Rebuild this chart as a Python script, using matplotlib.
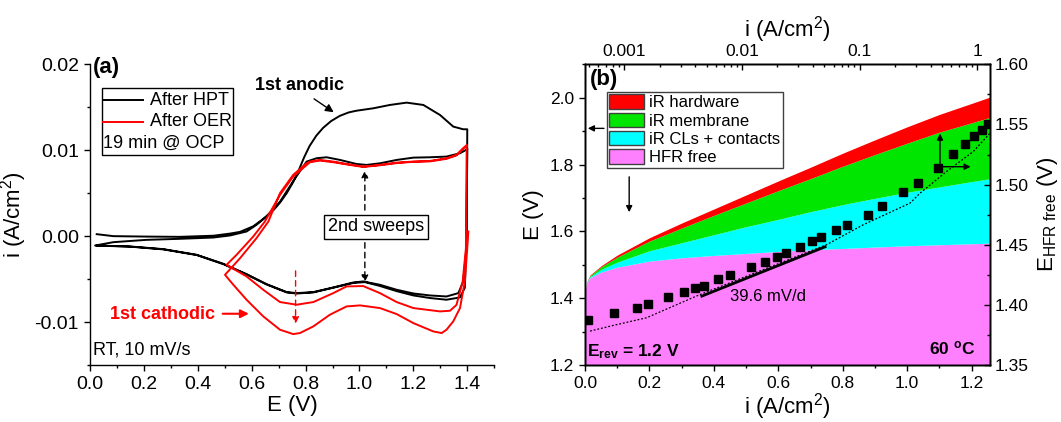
import numpy as np
import matplotlib
matplotlib.use('Agg')
import matplotlib.pyplot as plt
from matplotlib.patches import Rectangle, Patch
from matplotlib.lines import Line2D
from matplotlib.ticker import MultipleLocator, FormatStrFormatter, LogLocator, NullFormatter

plt.rcParams['font.family'] = ['Liberation Sans', 'DejaVu Sans']
plt.rcParams['mathtext.fontset'] = 'custom'
plt.rcParams['mathtext.rm'] = 'Liberation Sans'
plt.rcParams['mathtext.it'] = 'Liberation Sans:italic'
plt.rcParams['mathtext.bf'] = 'Liberation Sans:bold'
plt.rcParams['axes.unicode_minus'] = False
plt.rcParams['axes.linewidth'] = 1.0

# ---- panel (a): CVs, E (V) vs i (A/cm2)
hpt_E = [0.025, 0.087, 0.210, 0.334, 0.458, 0.520, 0.557, 0.606, 0.643, 0.680, 0.705, 0.730, 0.754, 0.775,
         0.795, 0.815, 0.840, 0.865, 0.895, 0.927, 0.960, 0.989, 1.051, 1.113, 1.175, 1.237, 1.299, 1.348,
         1.385, 1.400,
         1.399, 1.397, 1.385, 1.367, 1.323, 1.261, 1.200, 1.138, 1.076, 1.014, 0.977, 0.903, 0.829, 0.767,
         0.730, 0.655, 0.581, 0.495, 0.396, 0.272, 0.148, 0.019,
         0.087, 0.210, 0.334, 0.458, 0.520, 0.581, 0.618, 0.655, 0.705, 0.754, 0.804, 0.841, 0.878, 0.928,
         0.989, 1.026, 1.076, 1.138, 1.200, 1.261, 1.323, 1.373, 1.395, 1.400,
         1.398, 1.396, 1.391, 1.373, 1.323, 1.261, 1.200, 1.138, 1.076, 1.020, 0.977, 0.903, 0.829, 0.767,
         0.730, 0.655, 0.581, 0.495, 0.396, 0.272, 0.148, 0.025]
hpt_i = [0.00023, 0.00000, -0.00005, -0.00008, 0.00005, 0.00030, 0.00050, 0.00115, 0.00200, 0.00300, 0.00390, 0.00500, 0.00630, 0.00770,
         0.00920, 0.01050, 0.01170, 0.01260, 0.01340, 0.01400, 0.01440, 0.01460, 0.01488, 0.01527, 0.01554, 0.01527, 0.01410, 0.01275,
         0.01244, 0.01244,
         0.00600, -0.00140, -0.00527, -0.00663, -0.00702, -0.00690, -0.00667, -0.00624, -0.00566, -0.00527, -0.00539, -0.00597, -0.00651, -0.00663,
         -0.00651, -0.00558, -0.00442, -0.00322, -0.00217, -0.00151, -0.00120, -0.00109,
         -0.00070, -0.00043, -0.00031, -0.00016, 0.00008, 0.00054, 0.00132, 0.00229, 0.00400, 0.00640, 0.00868, 0.00907, 0.00918, 0.00887,
         0.00840, 0.00829, 0.00848, 0.00887, 0.00914, 0.00918, 0.00926, 0.00965, 0.01003, 0.01020,
         0.00400, -0.00140, -0.00600, -0.00713, -0.00740, -0.00720, -0.00690, -0.00640, -0.00580, -0.00535, -0.00545, -0.00600, -0.00655, -0.00668,
         -0.00655, -0.00562, -0.00446, -0.00326, -0.00220, -0.00154, -0.00122, -0.00110]

oer_E = [1.404, 1.400, 1.391, 1.373, 1.348, 1.323, 1.305, 1.274, 1.200, 1.138, 1.076, 1.002, 0.952, 0.890, 0.829,
         0.779, 0.754, 0.705, 0.643, 0.581, 0.532, 0.501,
         0.557, 0.618, 0.662, 0.705, 0.754, 0.804, 0.816, 0.853, 0.903, 0.952, 1.014, 1.076, 1.138, 1.200, 1.261,
         1.323, 1.360, 1.385, 1.398,
         1.396, 1.395, 1.383, 1.360, 1.336, 1.299, 1.200, 1.138, 1.076, 1.014, 0.952, 0.903, 0.829, 0.767, 0.705,
         0.643, 0.581, 0.532, 0.507,
         0.544, 0.606, 0.649, 0.705, 0.754, 0.816, 0.853, 0.903, 0.952, 1.014, 1.076, 1.138, 1.200, 1.261, 1.323,
         1.360, 1.385, 1.398]
oer_i = [0.00054, -0.00140, -0.00527, -0.00837, -0.00992, -0.01089, -0.01128, -0.01109, -0.01012, -0.00907, -0.00837, -0.00806, -0.00818, -0.00915, -0.01050,
         -0.01128, -0.01140, -0.01089, -0.00934, -0.00740, -0.00566, -0.00450,
         -0.00256, -0.00023, 0.00170, 0.00500, 0.00713, 0.00850, 0.00868, 0.00887, 0.00868, 0.00840, 0.00810, 0.00829, 0.00856, 0.00868, 0.00875,
         0.00907, 0.00945, 0.01023, 0.01060,
         0.00400, -0.00140, -0.00527, -0.00800, -0.00868, -0.00876, -0.00837, -0.00767, -0.00663, -0.00581, -0.00585, -0.00663, -0.00767, -0.00798, -0.00767,
         -0.00624, -0.00469, -0.00380, -0.00333,
         -0.00217, -0.00004, 0.00170, 0.00480, 0.00693, 0.00860, 0.00880, 0.00860, 0.00835, 0.00805, 0.00825, 0.00850, 0.00865, 0.00870, 0.00900,
         0.00940, 0.01020, 0.01050]

# ---- panel (b): polarisation breakdown (bottom/left axes)
i_pol = [0.0, 0.005, 0.015, 0.05, 0.1, 0.2, 0.3, 0.4, 0.5, 0.6, 0.7, 0.8, 0.9, 1.0, 1.1, 1.2, 1.26]
E_hfr_free = [1.420, 1.445, 1.461, 1.478, 1.493, 1.511, 1.521, 1.528, 1.534, 1.540, 1.545, 1.549, 1.553, 1.557, 1.560, 1.563, 1.565]
E_cl = [1.420, 1.446, 1.464, 1.486, 1.508, 1.542, 1.566, 1.590, 1.614, 1.636, 1.659, 1.680, 1.699, 1.717, 1.733, 1.749, 1.758]
E_mem = [1.420, 1.447, 1.467, 1.494, 1.523, 1.571, 1.610, 1.648, 1.685, 1.722, 1.758, 1.795, 1.830, 1.864, 1.897, 1.925, 1.942]
E_hw = [1.420, 1.448, 1.469, 1.497, 1.529, 1.581, 1.625, 1.667, 1.709, 1.751, 1.792, 1.834, 1.874, 1.913, 1.950, 1.983, 2.003]

i_dot = [0.0155, 0.088, 0.191, 0.274, 0.357, 0.75, 0.864, 1.009, 1.04, 1.122, 1.205, 1.257]
E_dot = [1.3016, 1.3186, 1.3415, 1.3763, 1.411, 1.5603, 1.620, 1.6847, 1.7145, 1.7792, 1.839, 1.894]

# Tafel data (top log axis, right axis)
i_tafel = [4.95e-4, 8.24e-4, 1.29e-3, 1.60e-3, 2.37e-3, 3.18e-3, 3.97e-3, 4.76e-3, 6.3e-3, 7.87e-3,
           0.0118, 0.0158, 0.0199, 0.0237, 0.0312, 0.0396, 0.0473, 0.0626, 0.0781, 0.1186,
           0.155, 0.235, 0.313, 0.466, 0.625, 0.789, 0.941, 1.092, 1.225]
E_tafel = [1.3874, 1.3929, 1.3971, 1.4009, 1.4067, 1.4104, 1.4142, 1.4159, 1.4212, 1.4245,
           1.4311, 1.4358, 1.4400, 1.4428, 1.4478, 1.4527, 1.4561, 1.4621, 1.4660, 1.4748,
           1.4823, 1.4935, 1.5010, 1.5142, 1.5257, 1.5341, 1.5406, 1.5458, 1.5500]
i_fit = [4.55e-3, 0.0508]
E_fit = [1.4073, 1.4483]

fig = plt.figure(figsize=(10.61, 4.22), dpi=100)

# ================= panel (a)
ax = fig.add_axes([0.0848, 0.135, 0.381, 0.7126])
ax.plot(hpt_E, hpt_i, color='k', lw=1.4)
ax.plot(oer_E, oer_i, color='#ff0000', lw=1.4)
ax.set_xlim(0, 1.5)
ax.set_ylim(-0.015, 0.02)
ax.spines['top'].set_visible(False)
ax.spines['right'].set_visible(False)
ax.xaxis.set_major_locator(MultipleLocator(0.2))
ax.xaxis.set_minor_locator(MultipleLocator(0.1))
ax.yaxis.set_major_locator(MultipleLocator(0.01))
ax.yaxis.set_minor_locator(MultipleLocator(0.005))
ax.xaxis.set_major_formatter(FormatStrFormatter('%.1f'))
ax.yaxis.set_major_formatter(FormatStrFormatter('%.2f'))
ax.tick_params(which='both', direction='out', labelsize=14, width=1)
ax.tick_params(which='major', length=4.5)
ax.tick_params(which='minor', length=2.5)
ax.set_xlabel('E (V)', fontsize=16, labelpad=1)
ax.set_ylabel('i (A/cm$^{2}$)', fontsize=16, labelpad=4)

# legend box
ax.add_patch(Rectangle((0.029, 0.698), 0.324, 0.222, transform=ax.transAxes,
                       fill=False, edgecolor='k', lw=1))
ax.add_line(Line2D([0.032, 0.131], [0.881, 0.881], transform=ax.transAxes, color='k', lw=1.4))
ax.add_line(Line2D([0.032, 0.131], [0.809, 0.809], transform=ax.transAxes, color='#ff0000', lw=1.4))
ax.text(0.148, 0.881, 'After HPT', transform=ax.transAxes, fontsize=13, va='center')
ax.text(0.148, 0.809, 'After OER', transform=ax.transAxes, fontsize=13, va='center')
ax.text(0.032, 0.738, '19 min @ OCP', transform=ax.transAxes, fontsize=13, va='center')

ax.text(0.011, 0.0196, '(a)', fontsize=16, fontweight='bold', va='center')
ax.text(0.776, 0.0175, '1st anodic', fontsize=13, fontweight='bold', ha='center', va='center')
ax.annotate('', xy=(0.913, 0.01424), xytext=(0.823, 0.01616),
            arrowprops=dict(arrowstyle='-|>', color='k', lw=1, mutation_scale=12))
ax.text(1.061, 0.00108, '2nd sweeps', fontsize=13, ha='center', va='center',
        bbox=dict(boxstyle='square,pad=0.2', fc='white', ec='k', lw=1))
ax.annotate('', xy=(1.02, 0.00794), xytext=(1.02, 0.00271),
            arrowprops=dict(arrowstyle='-|>', color='k', lw=1, ls=(0, (4, 3)), mutation_scale=10))
ax.annotate('', xy=(1.02, -0.00566), xytext=(1.02, -0.00043),
            arrowprops=dict(arrowstyle='-|>', color='k', lw=1, ls=(0, (4, 3)), mutation_scale=10))
ax.annotate('', xy=(0.763, -0.01051), xytext=(0.763, -0.00372),
            arrowprops=dict(arrowstyle='-|>', color='#ff0000', lw=1, ls=(0, (4, 3)), mutation_scale=10))
ax.text(0.269, -0.00915, '1st cathodic', fontsize=13, fontweight='bold', color='#ff0000',
        ha='center', va='center')
ax.annotate('', xy=(0.60, -0.00903), xytext=(0.482, -0.00903),
            arrowprops=dict(arrowstyle='-|>', color='#ff0000', lw=1.5, mutation_scale=12))
ax.text(0.011, -0.0132, 'RT, 10 mV/s', fontsize=13, va='center')

# ================= panel (b)
bx = fig.add_axes([0.5514, 0.135, 0.3817, 0.7126])
bx.fill_between(i_pol, 1.2, E_hfr_free, color='#ff80ff', lw=0)
bx.fill_between(i_pol, E_hfr_free, E_cl, color='#00ffff', lw=0)
bx.fill_between(i_pol, E_cl, E_mem, color='#00e600', lw=0)
bx.fill_between(i_pol, E_mem, E_hw, color='#ff0000', lw=0)
bx.plot(i_dot, E_dot, color='k', lw=0.9, ls=(0, (1.5, 1.5)))
bx.set_xlim(0, 1.257)
bx.set_ylim(1.2, 2.1)
bx.xaxis.set_major_locator(MultipleLocator(0.2))
bx.xaxis.set_minor_locator(MultipleLocator(0.1))
bx.yaxis.set_major_locator(MultipleLocator(0.2))
bx.yaxis.set_minor_locator(MultipleLocator(0.1))
bx.xaxis.set_major_formatter(FormatStrFormatter('%.1f'))
bx.yaxis.set_major_formatter(FormatStrFormatter('%.1f'))
bx.tick_params(which='both', direction='out', labelsize=12.5, width=1, top=False, right=False)
bx.tick_params(which='major', length=4.5)
bx.tick_params(which='minor', length=2.5)
bx.set_xlabel('i (A/cm$^{2}$)', fontsize=16, labelpad=0)
bx.set_ylabel('E (V)', fontsize=16, labelpad=4)

handles = [Patch(facecolor='#ff0000', edgecolor='#404040', lw=1, label='iR hardware'),
           Patch(facecolor='#00e600', edgecolor='#404040', lw=1, label='iR membrane'),
           Patch(facecolor='#00ffff', edgecolor='#404040', lw=1, label='iR CLs + contacts'),
           Patch(facecolor='#ff80ff', edgecolor='#404040', lw=1, label='HFR free')]
leg = bx.legend(handles=handles, loc='upper left', bbox_to_anchor=(0.0536, 0.909), borderaxespad=0,
                fontsize=12, frameon=True, fancybox=False, framealpha=1, edgecolor='#404040',
                borderpad=0.15, handlelength=2.1, handleheight=0.95, handletextpad=0.3, labelspacing=0.15)
leg.get_frame().set_linewidth(1)

bx.text(0.0123, 0.948, '(b)', transform=bx.transAxes, fontsize=16, fontweight='bold', va='center')
bx.text(0.005, 0.045, r'E$_{\mathbf{rev}}$ = 1.2 V', transform=bx.transAxes, fontsize=12.5,
        fontweight='bold', va='center')
bx.text(0.963, 0.057, r'60 $^{\mathbf{o}}$C', transform=bx.transAxes, fontsize=12.5,
        fontweight='bold', va='center', ha='right')
bx.text(0.568, 1.405, '39.6 mV/d', fontsize=12, ha='center', va='center')

bx.annotate('', xy=(0.0, 0.787), xytext=(0.0536, 0.787), xycoords='axes fraction',
            arrowprops=dict(arrowstyle='-|>', color='k', lw=1, mutation_scale=9))
bx.annotate('', xy=(0.109, 0.499), xytext=(0.109, 0.635), xycoords='axes fraction',
            arrowprops=dict(arrowstyle='-|>', color='k', lw=1, mutation_scale=9))
bx.annotate('', xy=(0.8765, 0.779), xytext=(0.8765, 0.6595), xycoords='axes fraction',
            arrowprops=dict(arrowstyle='-|>', color='k', lw=1, mutation_scale=9))
bx.annotate('', xy=(0.959, 0.6595), xytext=(0.8765, 0.6595), xycoords='axes fraction',
            arrowprops=dict(arrowstyle='-|>', color='k', lw=1, mutation_scale=9))

# right axis + top log axis for the Tafel data
bxr = bx.twinx()
bxr.set_ylim(1.35, 1.60)
bxr.yaxis.set_major_locator(MultipleLocator(0.05))
bxr.yaxis.set_minor_locator(MultipleLocator(0.025))
bxr.yaxis.set_major_formatter(FormatStrFormatter('%.2f'))
bxr.tick_params(which='both', direction='in', labelsize=12.5, width=1)
bxr.tick_params(which='major', length=4.5)
bxr.tick_params(which='minor', length=2.5)
bxr.set_ylabel(r'E$_{\rm HFR\ free}$ (V)', fontsize=16, labelpad=4)

bxt = bxr.twiny()
bxt.set_xscale('log')
bxt.set_xlim(4.63e-4, 1.28)
bxt.plot(i_tafel, E_tafel, 's', color='k', ms=5.5)
bxt.plot(i_fit, E_fit, color='k', lw=2)
bxt.set_xticks([1e-3, 1e-2, 1e-1, 1])
bxt.set_xticklabels(['0.001', '0.01', '0.1', '1'])
bxt.xaxis.set_minor_locator(LogLocator(base=10, subs=np.arange(2, 10), numticks=20))
bxt.xaxis.set_minor_formatter(NullFormatter())
bxt.tick_params(which='both', direction='in', labelsize=12.5, width=1)
bxt.tick_params(which='major', length=4.5)
bxt.tick_params(which='minor', length=2.5)
bxt.set_xlabel('i (A/cm$^{2}$)', fontsize=16, labelpad=6)

fig.savefig('out.png', dpi=100)
